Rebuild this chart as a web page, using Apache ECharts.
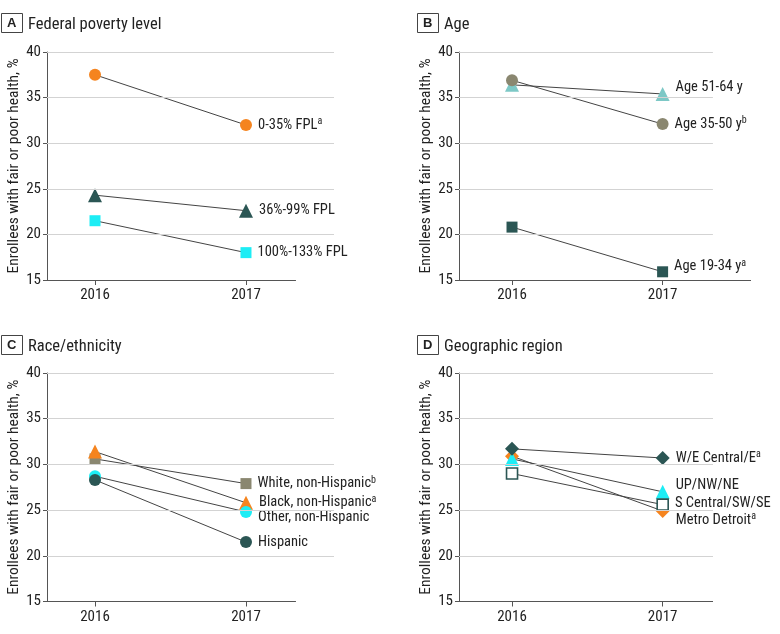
<!DOCTYPE html>
<html>
<head>
<meta charset="utf-8">
<script src="https://cdn.jsdelivr.net/npm/echarts@6/dist/echarts.min.js"></script>
<style>
  html, body { margin: 0; padding: 0; background: #fff; }
  #chart { width: 780px; height: 634px; }
</style>
</head>
<body>
<div id="chart"></div>
<script>
// values
var years = [2016, 2017]
var yTicks = [15, 20, 25, 30, 35, 40]
var axisTitle = 'Enrollees with fair or poor health, %'

var fplNames = ['0-35% FPL', '36%-99% FPL', '100%-133% FPL']
var fplSup = ['a', '', '']
var fpl2016 = [37.5, 24.3, 21.5]
var fpl2017 = [32.0, 22.6, 18.0]

var ageNames = ['Age 51-64 y', 'Age 35-50 y', 'Age 19-34 y']
var ageSup = ['', 'b', 'a']
var age2016 = [36.4, 36.9, 20.8]
var age2017 = [35.4, 32.1, 15.9]

var raceNames = ['White, non-Hispanic', 'Black, non-Hispanic', 'Other, non-Hispanic', 'Hispanic']
var raceSup = ['b', 'a', '', '']
var race2016 = [30.6, 31.4, 28.7, 28.3]
var race2017 = [27.9, 25.8, 24.8, 21.5]

var regionNames = ['Metro Detroit', 'UP/NW/NE', 'W/E Central/E', 'S Central/SW/SE']
var regionSup = ['a', '', 'a', '']
var region2016 = [30.9, 30.6, 31.7, 29.0]
var region2017 = [24.9, 27.0, 30.7, 25.6]

var FONT = '"Liberation Sans Narrow", "Roboto Condensed", "Open Sans", sans-serif'
var ORANGE = '#F5841F'
var DARK = '#2B5654'
var CYAN = '#1DEDF5'
var LIGHT = '#7DC8C6'
var OLIVE = '#8A8770'

var panels = [
  {
    letter: 'A', title: 'Federal poverty level', boxLeft: 1, boxTop: 13, titleLeft: 28,
    left: 47, top: 52, width: 287, height: 228,
    xMin: 2015.682, xMax: 2017.583, gridEnd: 2017.583, axisEnd: 2017.331,
    names: fplNames, sup: fplSup, v16: fpl2016, v17: fpl2017,
    symbols: ['circle', 'triangle', 'rect'], colors: [ORANGE, DARK, CYAN],
    sizes: [12, 14, 11], dy: [0, 0, 0]
  },
  {
    letter: 'B', title: 'Age', boxLeft: 417, boxTop: 13, titleLeft: 444,
    left: 459, top: 52, width: 292, height: 228,
    xMin: 2015.648, xMax: 2017.587, gridEnd: 2017.334, axisEnd: 2017.587,
    names: ageNames, sup: ageSup, v16: age2016, v17: age2017,
    symbols: ['triangle', 'circle', 'rect'], colors: [LIGHT, OLIVE, DARK],
    sizes: [14, 12, 11], dy: [-7, 0, -5]
  },
  {
    letter: 'C', title: 'Race/ethnicity', boxLeft: 1, boxTop: 335, titleLeft: 28,
    left: 47, top: 373, width: 287, height: 228.5,
    xMin: 2015.682, xMax: 2017.583, gridEnd: 2017.583, axisEnd: 2017.331,
    names: raceNames, sup: raceSup, v16: race2016, v17: race2017,
    symbols: ['rect', 'triangle', 'circle', 'circle'], colors: [OLIVE, ORANGE, CYAN, DARK],
    sizes: [11, 14, 12, 12], dy: [0, 0, 5, 0]
  },
  {
    letter: 'D', title: 'Geographic region', boxLeft: 417, boxTop: 335, titleLeft: 444,
    left: 459, top: 373, width: 254, height: 228.5,
    xMin: 2015.648, xMax: 2017.334, gridEnd: 2017.334, axisEnd: 2017.334,
    names: regionNames, sup: regionSup, v16: region2016, v17: region2017,
    symbols: ['diamond', 'triangle', 'diamond', 'rect'], colors: [ORANGE, CYAN, DARK, '#fff'],
    sizes: [14, 14, 14, 11], dy: [9, -6, 0, -1]
  }
]

var grid = []
var xAxis = []
var yAxis = []
var series = []
var title = []

panels.forEach(function (p, i) {
  grid.push({ left: p.left, top: p.top, width: p.width, height: p.height })
  title.push({
    text: p.letter, left: p.boxLeft, top: p.boxTop, padding: [4, 6, 3, 6],
    borderColor: '#444', borderWidth: 1,
    textStyle: { fontFamily: 'Liberation Sans', fontSize: 13, fontWeight: 'bold', color: '#222' }
  })
  title.push({
    text: p.title, left: p.titleLeft, top: p.boxTop + 3, padding: 0,
    textStyle: { fontFamily: FONT, fontSize: 16.5, fontWeight: 'normal', color: '#222' }
  })
  xAxis.push({
    gridIndex: i, type: 'value', min: p.xMin, max: p.xMax,
    axisLine: { show: false },
    splitLine: { show: false },
    axisTick: { show: true, customValues: years, length: 5, lineStyle: { color: '#555' } },
    axisLabel: {
      customValues: years, margin: 8, fontFamily: FONT, fontSize: 15, color: '#222',
      formatter: function (v) { return String(v) }
    }
  })
  yAxis.push({
    gridIndex: i, type: 'value', min: 15, max: 40, interval: 5,
    name: axisTitle, nameLocation: 'middle', nameGap: 25,
    nameTextStyle: { fontFamily: FONT, fontSize: 15.5, color: '#222' },
    axisLine: { show: true, lineStyle: { color: '#555' } },
    axisTick: { show: true, length: 4, lineStyle: { color: '#555' } },
    splitLine: { show: false },
    axisLabel: { margin: 6, fontFamily: FONT, fontSize: 15, color: '#222' }
  })

  // gridlines and bottom axis line (lengths differ per panel)
  var lines = yTicks.slice(1).map(function (t) {
    return [{ coord: [p.xMin, t] }, { coord: [p.gridEnd, t] }]
  })
  lines.push([{ coord: [p.xMin, yTicks[0]], lineStyle: { color: '#555' } },
    { coord: [p.axisEnd, yTicks[0]] }])
  series.push({
    type: 'line', xAxisIndex: i, yAxisIndex: i, data: [], z: 1, silent: true,
    markLine: {
      silent: true, animation: false, symbol: ['none', 'none'],
      label: { show: false },
      lineStyle: { color: '#d3d3d3', width: 1, type: 'solid' },
      emphasis: { disabled: true },
      data: lines
    }
  })

  p.names.forEach(function (name, k) {
    var open = p.colors[k] === '#fff'
    series.push({
      type: 'line', name: name, xAxisIndex: i, yAxisIndex: i, z: 2,
      symbol: p.symbols[k], symbolSize: p.sizes[k], animation: false,
      lineStyle: { color: '#444', width: 1 },
      itemStyle: open ? { color: '#fff', borderColor: DARK, borderWidth: 1.6 } : { color: p.colors[k] },
      data: [
        [years[0], p.v16[k]],
        {
          value: [years[1], p.v17[k]],
          label: {
            show: true, position: 'right', distance: 6, offset: [0, p.dy[k]],
            fontFamily: FONT, fontSize: 14.5, color: '#222', lineHeight: 17,
            formatter: name + (p.sup[k] ? '{sup|' + p.sup[k] + '}' : ''),
            rich: { sup: { fontFamily: FONT, fontSize: 10, color: '#222', verticalAlign: 'top', lineHeight: 12 } }
          }
        }
      ]
    })
  })
})

var chart = echarts.init(document.getElementById('chart'), null, { renderer: 'canvas' })
chart.setOption({
  animation: false,
  backgroundColor: '#fff',
  title: title,
  grid: grid,
  xAxis: xAxis,
  yAxis: yAxis,
  series: series
})
</script>
</body>
</html>
